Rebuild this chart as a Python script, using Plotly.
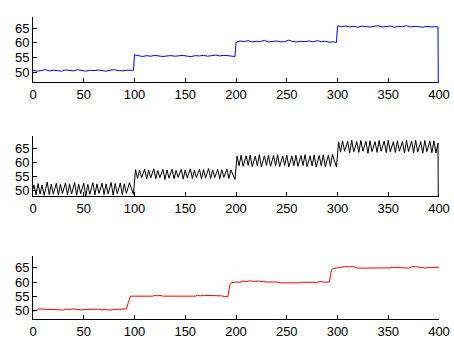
import plotly.graph_objects as go
from plotly.subplots import make_subplots

# ---- data ----
blue_x = [0, 4, 8, 12, 16, 20, 24, 28, 32, 36, 40, 44, 48, 52, 56, 60, 64, 68, 72, 76, 80, 84, 88, 92, 96, 99,
          100, 104, 108, 112, 116, 120, 124, 128, 132, 136, 140, 144, 148, 152, 156, 160, 164, 168, 172, 176, 180, 184, 188, 192, 196, 199,
          200, 204, 208, 212, 216, 220, 224, 228, 232, 236, 240, 244, 248, 252, 256, 260, 264, 268, 272, 276, 280, 284, 288, 292, 296, 299,
          300, 304, 308, 312, 316, 320, 324, 328, 332, 336, 340, 344, 348, 352, 356, 360, 364, 368, 372, 376, 380, 384, 388, 392, 396, 399,
          400]
blue_y = [50.6, 50.3, 50.5, 50.8, 50.4, 50.6, 50.5, 50.3, 50.7, 50.5, 50.4, 50.8, 50.5, 50.3, 50.6, 50.5, 50.7, 50.4, 50.3, 50.6, 50.8, 50.5, 50.4, 50.6, 50.7, 50.6,
          55.9, 55.5, 55.3, 55.6, 55.4, 55.7, 55.5, 55.3, 55.5, 55.6, 55.4, 55.5, 55.7, 55.4, 55.3, 55.6, 55.5, 55.7, 55.4, 55.6, 55.8, 55.5, 55.7, 55.6, 55.4, 55.3,
          60.2, 60.6, 60.4, 60.7, 60.3, 60.5, 60.4, 60.8, 60.3, 60.4, 60.6, 60.3, 60.4, 60.9, 60.4, 60.3, 60.5, 60.4, 60.6, 60.3, 60.7, 60.4, 60.5, 60.2, 60.3, 60.1,
          65.8, 65.5, 65.7, 65.4, 65.6, 65.3, 65.7, 65.5, 65.4, 65.6, 65.8, 65.4, 65.5, 65.7, 65.3, 65.6, 65.5, 65.8, 65.4, 65.6, 65.5, 65.3, 65.6, 65.4, 65.5, 65.4,
          0]

black_x = [0, 1, 3, 5, 7, 9, 11, 14, 16, 18, 20, 23, 25, 27, 29, 32, 34, 36, 38, 41,
           43, 45, 47, 50, 52, 54, 56, 59, 61, 63, 65, 68, 70, 72, 74, 77, 79, 81, 83, 86,
           88, 90, 92, 95, 99,
           101, 103, 105, 107, 110, 112, 114, 116, 119, 121, 123, 125, 128, 130, 132, 134, 137, 139, 141, 143,
           146, 148, 150, 152, 155, 157, 159, 161, 164, 166, 168, 170, 173, 175, 177, 179, 182, 184, 186, 188,
           191, 193, 195, 199,
           201, 203, 205, 207, 210, 212, 214, 216, 219, 221, 223, 225, 228, 230, 232, 234, 237, 239, 241, 243,
           246, 248, 250, 252, 255, 257, 259, 261, 264, 266, 268, 270, 273, 275, 277, 279, 282, 284, 286, 288,
           291, 293, 295, 299,
           301, 303, 305, 307, 310, 312, 314, 316, 319, 321, 323, 325, 328, 330, 332, 334, 337, 339, 341, 343,
           346, 348, 350, 352, 355, 357, 359, 361, 364, 366, 368, 370, 373, 375, 377, 379, 382, 384, 386, 388,
           391, 393, 395, 397, 399, 400]
black_y = [50.5, 52.0, 48.5, 52.5, 48.8, 52.0, 48.3, 53.0, 48.6, 52.3, 48.8, 52.6, 48.4, 52.2, 49.0, 52.7, 48.5, 52.4, 48.8, 52.8,
           48.4, 52.3, 48.9, 52.6, 48.1, 52.2, 48.7, 52.8, 48.5, 52.4, 49.0, 52.6, 48.6, 52.3, 48.8, 52.9, 48.4, 52.5, 48.9, 52.7,
           48.5, 52.4, 49.0, 52.8, 48.7,
           57.4, 54.3, 57.2, 54.6, 57.6, 54.1, 57.3, 54.5, 57.7, 54.2, 57.1, 54.6, 57.5, 53.9, 57.3, 54.4, 57.6, 54.2, 57.2, 54.7,
           57.5, 54.1, 57.3, 54.5, 57.7, 54.3, 57.2, 54.6, 57.6, 54.2, 57.4, 54.5, 57.8, 54.3, 57.3, 54.6, 57.5, 54.2, 57.4, 54.7,
           57.6, 54.3, 57.3, 54.0,
           62.2, 58.8, 62.5, 58.6, 62.3, 58.9, 62.6, 58.5, 62.2, 58.8, 62.7, 58.4, 62.3, 58.9, 62.5, 58.6, 62.4, 58.8, 62.7, 58.5,
           62.2, 58.9, 62.6, 58.4, 62.3, 58.8, 62.5, 58.6, 62.4, 58.9, 62.7, 58.5, 62.3, 58.7, 62.6, 58.4, 62.4, 58.8, 62.7, 58.5,
           62.5, 58.6, 62.8, 58.3,
           67.2, 63.6, 67.6, 63.9, 67.4, 63.3, 67.8, 63.7, 67.3, 63.5, 67.7, 63.9, 67.4, 63.2, 67.6, 63.8, 67.3, 63.5, 67.7, 63.9,
           67.5, 63.4, 67.8, 63.7, 67.3, 63.5, 67.6, 63.9, 67.4, 63.3, 67.7, 63.8, 67.5, 63.4, 67.8, 63.6, 67.3, 63.2, 67.7, 63.8,
           67.5, 63.4, 67.6, 63.3, 66.8, 0]

red_x = [0, 3, 5, 10, 22, 24, 27, 30, 32, 35,
         40, 44, 47, 50, 60, 66, 68, 70, 73, 76,
         80, 86, 89, 92, 94, 96, 100, 118, 120, 123,
         125, 128, 131, 160, 162, 165, 168, 172, 175, 186,
         190, 192, 194, 196, 200, 204, 206, 210, 214, 218,
         222, 228, 230, 240, 244, 262, 264, 276, 279, 282,
         284, 287, 290, 292, 294, 296, 300, 305, 308, 312,
         315, 320, 340, 345, 352, 355, 360, 368, 370, 374,
         380, 384, 386, 390, 400]
red_y = [50.0, 50.1, 50.7, 50.6, 50.4, 50.3, 50.5, 50.3, 50.6, 50.5,
         50.7, 50.5, 50.3, 50.5, 50.5, 50.6, 50.3, 50.5, 50.4, 50.3,
         50.5, 50.6, 50.7, 50.7, 53.0, 55.1, 55.1, 55.1, 55.4, 55.2,
         55.4, 55.1, 55.1, 55.1, 55.4, 55.2, 55.4, 55.4, 55.2, 55.2,
         54.9, 54.9, 59.2, 59.8, 60.0, 59.9, 60.3, 60.2, 60.4, 60.2,
         60.3, 60.1, 60.0, 60.0, 59.7, 59.7, 59.9, 59.9, 59.7, 60.2,
         60.2, 59.9, 59.9, 60.0, 64.2, 64.7, 64.9, 65.3, 65.4, 65.2,
         65.4, 64.8, 64.8, 65.0, 64.9, 65.1, 65.0, 64.7, 64.8, 65.4,
         65.3, 65.0, 64.8, 65.0, 65.1]

x_ticks = [0, 50, 100, 150, 200, 250, 300, 350, 400]
y_ticks = [50, 55, 60, 65]
y_ranges = [[46.6, 68.8], [48.1, 69.3], [47.2, 69.0]]

W, H = 454, 342
# pixel positions of the three axes boxes (top, bottom)
boxes = [(17, 82), (136, 196), (256, 319)]

fig = make_subplots(rows=3, cols=1)
fig.add_trace(go.Scatter(x=blue_x, y=blue_y, mode="lines",
                         line=dict(color="#0000ff", width=1)), row=1, col=1)
fig.add_trace(go.Scatter(x=black_x, y=black_y, mode="lines",
                         line=dict(color="#000000", width=1)), row=2, col=1)
fig.add_trace(go.Scatter(x=red_x, y=red_y, mode="lines",
                         line=dict(color="#ff0000", width=1)), row=3, col=1)

axis_common = dict(showline=True, linecolor="black", linewidth=1, mirror=False,
                   ticks="inside", ticklen=4, tickcolor="black", tickwidth=1,
                   showgrid=False, zeroline=False, automargin=False,
                   tickfont=dict(family="Liberation Sans, Arial, sans-serif", size=13, color="black"))

for i in range(3):
    top, bot = boxes[i]
    xa = "xaxis" if i == 0 else f"xaxis{i+1}"
    ya = "yaxis" if i == 0 else f"yaxis{i+1}"
    fig.layout[xa].update(domain=[0, 1], range=[0, 400], tickvals=x_ticks, **axis_common)
    fig.layout[ya].update(domain=[1 - bot / H, 1 - top / H], range=y_ranges[i],
                          tickvals=y_ticks, **axis_common)

fig.update_layout(width=W, height=H, showlegend=False,
                  margin=dict(l=33, r=15, t=0, b=0),
                  paper_bgcolor="white", plot_bgcolor="white",
                  font=dict(family="Liberation Sans, Arial, sans-serif", size=13, color="black"))

fig.write_html("out.html", config={"displayModeBar": False},
               post_script="document.body.style.margin='0';")
